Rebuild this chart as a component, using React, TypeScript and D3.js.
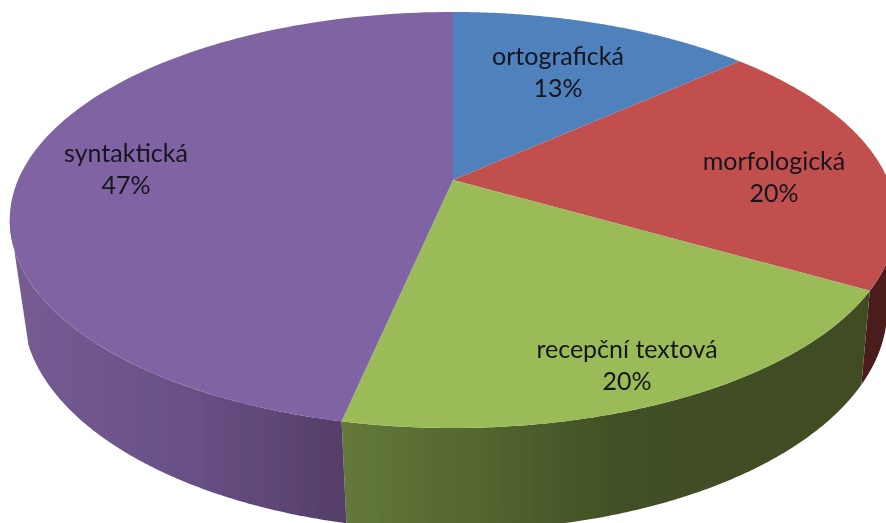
import React from "react";
import * as d3 from "d3";

const categories = ["ortografická", "morfologická", "recepční textová", "syntaktická"];
const counts = [2, 3, 3, 7];
const percentLabels = ["13%", "20%", "20%", "47%"];

const topColors = ["#4f81bd", "#c0504d", "#9bbb59", "#8064a2"];
const sideStops: [number, string][][] = [
  [[0, "#2c4a6e"], [886, "#2c4a6e"]],
  [[800, "#4b1e1d"], [886, "#4b1e1d"]],
  [[345, "#64783a"], [480, "#53662f"], [620, "#414f25"], [886, "#3f4c24"]],
  [[20, "#755b93"], [200, "#674f84"], [345, "#553e68"]],
];
const labelAnchors = [
  { x: 558, y: 65 },
  { x: 774, y: 170 },
  { x: 627, y: 358 },
  { x: 126, y: 162 },
];

const W = 886;
const H = 523;
const CX = 453;
const CY = 180;
const K = -0.1923;
const A = 165.7;
const C = 435;
const BOTTOM_SX = 0.975;
const BOTTOM_DX = 2;
const BOTTOM_SY = 1.0615;
const BOTTOM_DY = 76;
const rad = Math.PI / 180;
const SILHOUETTE = Math.acos(K);

function project(angle: number): [number, number] {
  const u = Math.sin(angle);
  const v = -Math.cos(angle);
  const d = 1 + K * v;
  return [CX + (C * u) / d, (A * v + CY) / d];
}
function projectBottom(angle: number): [number, number] {
  const [x, y] = project(angle);
  return [CX + BOTTOM_SX * (x - CX) + BOTTOM_DX, BOTTOM_SY * y + BOTTOM_DY];
}
function sweep(from: number, to: number, n: number): number[] {
  return d3.range(0, n + 1).map((s) => from + ((to - from) * s) / n);
}

export default function App() {
  const arcs = d3.pie<number>().sort(null)(counts);
  const line = d3.line();

  const gradients: React.ReactNode[] = [];
  const sides: React.ReactNode[] = [];
  arcs.forEach((a, i) => {
    const from = Math.max(a.startAngle, SILHOUETTE);
    const to = Math.min(a.endAngle, 2 * Math.PI - SILHOUETTE);
    if (to <= from) return;
    const lowFrom = Math.max(a.startAngle, SILHOUETTE + 4 * rad);
    const lowTo = Math.min(a.endAngle, 2 * Math.PI - SILHOUETTE - 9 * rad);
    const stops = sideStops[i];
    const x0 = stops[0][0];
    const x1 = stops[stops.length - 1][0];
    const offset = d3.scaleLinear().domain([x0, x1]).range([0, 1]);
    gradients.push(
      <linearGradient key={i} id={`side${i}`} gradientUnits="userSpaceOnUse" x1={x0} x2={x1} y1={0} y2={0}>
        {stops.map(([x, col]) => (
          <stop key={x} offset={offset(x)} stopColor={col} />
        ))}
      </linearGradient>
    );
    const upper = sweep(from, to, 200).map(project);
    const lower = sweep(lowTo, lowFrom, 200).map(projectBottom);
    sides.push(<path key={i} d={line([...upper, ...lower]) + "Z"} fill={`url(#side${i})`} />);
  });

  const tops = arcs.map((a, i) => {
    const pts = sweep(a.startAngle, a.endAngle, 120).map(project);
    return <path key={i} d={line([[CX, CY], ...pts]) + "Z"} fill={topColors[i]} />;
  });

  return (
    <svg
      width={W}
      height={H}
      viewBox={`0 0 ${W} ${H}`}
      style={{ position: "absolute", left: 0, top: 0, display: "block", background: "#fff" }}
    >
      <defs>
        {gradients}
        <filter id="soft" x="-5%" y="-5%" width="110%" height="110%">
          <feGaussianBlur stdDeviation={0.5} />
        </filter>
      </defs>
      <g filter="url(#soft)">
        <g>{sides}</g>
        <g>{tops}</g>
        <g fontFamily="Lato, 'Open Sans', sans-serif" fontSize={25} fill="#15151f" textAnchor="middle">
          {categories.map((c, i) => (
            <g key={c}>
              <text x={labelAnchors[i].x} y={labelAnchors[i].y}>{c}</text>
              <text x={labelAnchors[i].x} y={labelAnchors[i].y + 32}>{percentLabels[i]}</text>
            </g>
          ))}
        </g>
      </g>
    </svg>
  );
}
